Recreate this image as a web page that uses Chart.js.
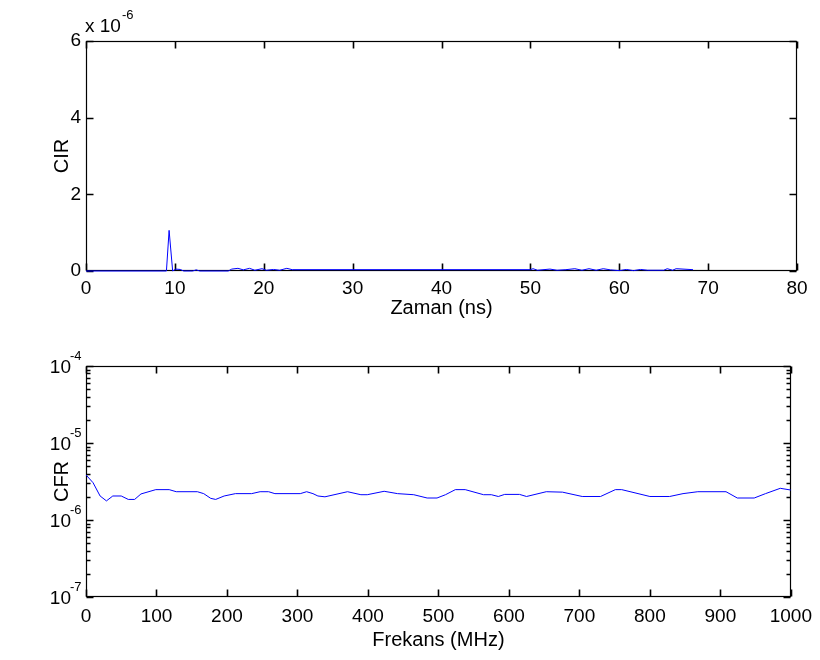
<!DOCTYPE html>
<html>
<head>
<meta charset="utf-8">
<script src="https://cdn.jsdelivr.net/npm/chart.js@4/dist/chart.umd.min.js"></script>
<style>
html,body{margin:0;padding:0;background:#fff;}
#wrap{position:relative;width:820px;height:660px;}
.box{position:absolute;left:0;width:820px;height:330px;}
</style>
</head>
<body>
<div id="wrap">
  <div class="box" style="top:0"><canvas id="cir" width="820" height="330"></canvas></div>
  <div class="box" style="top:330px"><canvas id="cfr" width="820" height="330"></canvas></div>
</div>
<script>
// CIR (values in units of 1e-6)
const cirTime=[0,9.05,9.35,9.75,10.1,10.6,11.0,12.0,12.4,12.8,16.0,16.4,17.1,17.7,18.4,19.0,19.8,20.3,21.1,21.8,22.6,23.2,50.0,50.3,50.8,52.2,53.0,54.0,55.0,55.8,56.6,57.4,58.2,59.0,60.0,60.8,61.6,62.4,63.2,65.0,65.4,66.0,66.4,68.3];
const cirValue=[0,0,1.06,0,0.05,0.04,0,0,0.03,0,0,0.05,0.07,0.03,0.07,0.02,0.06,0.02,0.04,0.02,0.07,0.035,0.035,0.06,0.02,0.05,0.02,0.035,0.06,0.02,0.06,0.02,0.06,0.03,0.01,0.04,0.01,0.04,0.02,0.02,0.06,0.02,0.06,0.035];
const cirXTicks=[0,10,20,30,40,50,60,70,80];
const cirYTicks=[0,2,4,6];

// CFR
const cfrFreq=[0,10,20,29,38,50,60,69,78,99,118,128,158,167,177,184,196,212,235,247,259,268,304,313,322,329,339,371,390,399,423,442,465,484,498,510,524,538,564,575,585,594,615,625,653,676,704,730,751,760,800,828,847,868,908,924,948,964,985,1000];
const cfrValue=[3.85e-6,3.05e-6,2.05e-6,1.77e-6,2.05e-6,2.05e-6,1.85e-6,1.85e-6,2.18e-6,2.48e-6,2.48e-6,2.33e-6,2.33e-6,2.2e-6,1.91e-6,1.85e-6,2.05e-6,2.2e-6,2.2e-6,2.33e-6,2.33e-6,2.2e-6,2.2e-6,2.33e-6,2.2e-6,2.05e-6,2.0e-6,2.33e-6,2.13e-6,2.13e-6,2.36e-6,2.2e-6,2.13e-6,1.93e-6,1.93e-6,2.13e-6,2.48e-6,2.48e-6,2.13e-6,2.13e-6,2.02e-6,2.15e-6,2.15e-6,2.02e-6,2.33e-6,2.3e-6,2.02e-6,2.02e-6,2.48e-6,2.48e-6,2.02e-6,2.02e-6,2.2e-6,2.33e-6,2.33e-6,1.93e-6,1.93e-6,2.2e-6,2.58e-6,2.45e-6];
const cfrXTicks=[0,100,200,300,400,500,600,700,800,900,1000];
const cfrDecades=[1e-7,1e-6,1e-5,1e-4];
const cfrExponents=['-7','-6','-5','-4'];
const minorSteps=[2,3,4,5,6,7,8,9];

const FONT='"Liberation Sans", Arial, Helvetica, sans-serif';
const FS=19;   // tick labels
const TS=20;   // axis titles

// matlab style box with inward ticks, drawn under the line
const matlabBox={
  id:'matlabBox',
  beforeDatasetsDraw(chart,args,opts){
    const {ctx,chartArea:a}=chart;
    const xs=chart.scales.x, ys=chart.scales.y;
    const L=Math.round(a.left)+0.5, R=Math.round(a.right)-0.5, T=Math.round(a.top)+0.5, B=Math.round(a.bottom)-0.5;
    ctx.save();
    ctx.strokeStyle='#000';
    ctx.lineWidth=1.2;
    ctx.strokeRect(L,T,R-L,B-T);
    ctx.lineWidth=1.6;
    ctx.beginPath();
    opts.xTicks.forEach(v=>{
      const p=Math.round(xs.getPixelForValue(v))+0.5;
      ctx.moveTo(p,B);ctx.lineTo(p,B-7);
      ctx.moveTo(p,T);ctx.lineTo(p,T+7);
    });
    opts.yTicks.forEach(v=>{
      const p=Math.round(ys.getPixelForValue(v))+0.5;
      ctx.moveTo(L,p);ctx.lineTo(L+7,p);
      ctx.moveTo(R,p);ctx.lineTo(R-7,p);
    });
    (opts.yMinor||[]).forEach(v=>{
      const p=Math.round(ys.getPixelForValue(v))+0.5;
      ctx.moveTo(L,p);ctx.lineTo(L+4,p);
      ctx.moveTo(R,p);ctx.lineTo(R-4,p);
    });
    ctx.stroke();
    ctx.restore();
  },
  afterDraw(chart,args,opts){
    const {ctx,chartArea:a}=chart;
    const ys=chart.scales.y;
    ctx.save();
    ctx.fillStyle='#000';
    if(opts.powerLabels){
      opts.powerLabels.forEach((v,i)=>{
        const p=ys.getPixelForValue(v);
        ctx.font=FS+'px '+FONT;
        ctx.textAlign='right';
        ctx.textBaseline='alphabetic';
        ctx.fillText('10',a.left-15,p+7);
        ctx.font='13px '+FONT;
        ctx.textAlign='left';
        ctx.fillText(opts.exponents[i],a.left-16,p-6.5);
      });
    }
    if(opts.multiplier){
      ctx.font=FS+'px '+FONT;
      ctx.textAlign='left';
      ctx.textBaseline='alphabetic';
      ctx.fillText('x 10',a.left-1,a.top-9);
      const w=ctx.measureText('x 10').width;
      ctx.font='13px '+FONT;
      ctx.fillText(opts.multiplier,a.left-1+w+1,a.top-22);
    }
    ctx.restore();
  }
};

new Chart(document.getElementById('cir'),{
  type:'line',
  data:{datasets:[{
    data:cirTime.map((t,i)=>({x:t,y:cirValue[i]})),
    borderColor:'#0000ff',borderWidth:1,pointRadius:0,tension:0,fill:false,clip:false
  }]},
  options:{
    responsive:false,animation:false,devicePixelRatio:1,
    layout:{padding:{top:41,right:23,left:0,bottom:0}},
    plugins:{legend:{display:false},tooltip:{enabled:false},
      matlabBox:{xTicks:cirXTicks,yTicks:cirYTicks,multiplier:'-6'}},
    scales:{
      x:{type:'linear',min:0,max:80,
        afterBuildTicks(s){s.ticks=cirXTicks.map(v=>({value:v}));},
        afterFit(s){s.height=59;},
        ticks:{color:'#000',font:{family:FONT,size:FS},padding:6,maxRotation:0,autoSkip:false,callback:v=>String(v)},
        grid:{display:false,drawTicks:false},border:{display:false},
        title:{display:true,text:'Zaman (ns)',color:'#000',font:{family:FONT,size:TS},padding:{top:0,bottom:10}}},
      y:{type:'linear',min:0,max:6,
        afterBuildTicks(s){s.ticks=cirYTicks.map(v=>({value:v}));},
        afterFit(s){s.width=86;},
        ticks:{color:'#000',font:{family:FONT,size:FS},padding:5,callback:v=>String(v)},
        grid:{display:false,drawTicks:false},border:{display:false},
        title:{display:true,text:'CIR',color:'#000',font:{family:FONT,size:TS},padding:{top:50,bottom:0}}}
    }
  },
  plugins:[matlabBox]
});

new Chart(document.getElementById('cfr'),{
  type:'line',
  data:{datasets:[{
    data:cfrFreq.map((f,i)=>({x:f,y:cfrValue[i]})),
    borderColor:'#0000ff',borderWidth:1,pointRadius:0,tension:0,fill:false
  }]},
  options:{
    responsive:false,animation:false,devicePixelRatio:1,
    layout:{padding:{top:36,right:23,left:0,bottom:0}},
    plugins:{legend:{display:false},tooltip:{enabled:false},
      matlabBox:{xTicks:cfrXTicks,yTicks:cfrDecades,
        yMinor:cfrDecades.slice(0,3).flatMap(d=>minorSteps.map(m=>m*d)),
        powerLabels:cfrDecades,exponents:cfrExponents}},
    scales:{
      x:{type:'linear',min:0,max:1000,
        afterBuildTicks(s){s.ticks=cfrXTicks.map(v=>({value:v}));},
        afterFit(s){s.height=63;},
        ticks:{color:'#000',font:{family:FONT,size:FS},padding:8,maxRotation:0,autoSkip:false,callback:v=>String(v)},
        grid:{display:false,drawTicks:false},border:{display:false},
        title:{display:true,text:'Frekans (MHz)',color:'#000',font:{family:FONT,size:TS},padding:{top:0,bottom:8}}},
      y:{type:'logarithmic',min:1e-7,max:1e-4,
        afterFit(s){s.width=86;},
        ticks:{display:false},
        grid:{display:false,drawTicks:false},border:{display:false},
        title:{display:true,text:'CFR',color:'#000',font:{family:FONT,size:TS},padding:{top:50,bottom:0}}}
    }
  },
  plugins:[matlabBox]
});
</script>
</body>
</html>
